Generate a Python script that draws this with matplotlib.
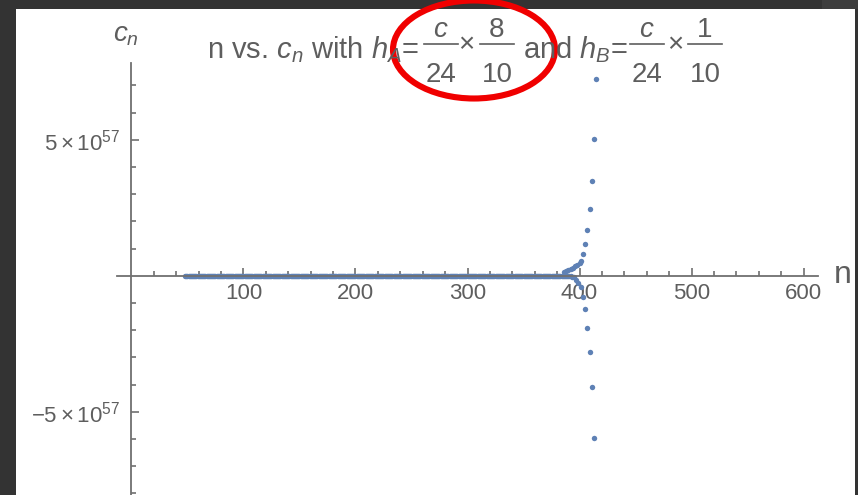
import numpy as np
import matplotlib
matplotlib.use("Agg")
import matplotlib.pyplot as plt
from matplotlib.patches import Rectangle, Ellipse

plt.rcParams["font.family"] = ["Liberation Sans", "DejaVu Sans"]
plt.rcParams["mathtext.fontset"] = "custom"
plt.rcParams["mathtext.rm"] = "Liberation Sans"
plt.rcParams["mathtext.it"] = "Liberation Sans:italic"

# c_n values, in units of 1e57
n_flat = np.arange(48, 393)
c_flat = np.zeros(len(n_flat))

n_up = [386, 388, 390, 392, 394, 396, 398, 400, 401, 403, 405, 407, 409, 411, 413, 415]
c_up = [0.15, 0.18, 0.21, 0.25, 0.29, 0.34, 0.40, 0.46, 0.56, 0.81, 1.17, 1.67, 2.44, 3.47, 5.02, 7.24]

n_lo = [393, 395, 397, 399, 401, 403, 405, 407, 409, 411, 413]
c_lo = [-0.03, -0.06, -0.15, -0.28, -0.40, -0.80, -1.23, -1.92, -2.79, -4.08, -5.96]

x_major = [100, 200, 300, 400, 500, 600]
x_minor = [v for v in range(20, 600, 20) if v % 100]
y_major = [-5, 5]
y_major_labels = [r"$-5\times10^{57}$", r"$5\times10^{57}$"]
y_minor = [-8, -7, -6, -4, -3, -2, -1, 1, 2, 3, 4, 6, 7]

SCALE = 1e57
W, H = 858, 495
pt_color = "#5E81B5"
txt = "#5e5e5e"
axis_col = "#707070"

fig = plt.figure(figsize=(W / 100, H / 100), dpi=100, facecolor="#333333")

# window frame behind everything
bg = fig.add_axes([0, 0, 1, 1], zorder=0)
bg.set_xlim(0, W)
bg.set_ylim(H, 0)
bg.axis("off")
bg.add_patch(Rectangle((822, 0), W - 822, 9, color="#3d3d3d", lw=0))
bg.add_patch(Rectangle((16, 9), 855 - 16, H - 9, color="white", lw=0))

# data axes: n from -13 to 613, c from -8.06e57 to 7.82e57
x_left, x_right = 116.9, 818.1
y_top = 63
ax = fig.add_axes([x_left / W, 0, (x_right - x_left) / W, (H - y_top) / H], zorder=1)
ax.patch.set_alpha(0)
ax.set_xlim(-13, 613)
ax.set_ylim(-8.06 * SCALE, 7.82 * SCALE)

for key in ("top", "right"):
    ax.spines[key].set_visible(False)
for key in ("left", "bottom"):
    ax.spines[key].set_position(("data", 0))
    ax.spines[key].set_color(axis_col)
    ax.spines[key].set_linewidth(1.3)

ax.set_xticks(x_major)
ax.set_xticks(x_minor, minor=True)
ax.set_yticks([v * SCALE for v in y_major], labels=y_major_labels)
ax.set_yticks([v * SCALE for v in y_minor], minor=True)
ax.tick_params(which="both", direction="in", color=axis_col, width=1.2,
               labelcolor=txt, labelsize=16)
ax.tick_params(which="major", length=6)
ax.tick_params(which="minor", length=3.5)
ax.tick_params(axis="x", pad=5)
ax.tick_params(axis="y", pad=8)

mk = dict(ls="none", marker="o", ms=3.9, mew=0, color=pt_color, clip_on=False)
ax.plot(n_flat, c_flat * SCALE, **mk)
ax.plot(n_up, np.array(c_up) * SCALE, **mk)
ax.plot(n_lo, np.array(c_lo) * SCALE, **mk)

# labels, title and annotation in pixel coordinates
ov = fig.add_axes([0, 0, 1, 1], zorder=2)
ov.set_xlim(0, W)
ov.set_ylim(H, 0)
ov.axis("off")

ov.text(113, 42, r"$c_n$", fontsize=20, color=txt, va="baseline")
ov.text(834, 275, "n", fontsize=23, color=txt, va="center")

base = 58
ov.text(207, base, r"n vs. $c_n$ with $h_A$=", fontsize=21, color=txt, va="baseline")
ov.text(523, base, r"and $h_B$=", fontsize=21, color=txt, va="baseline")

fracs = [(441, "$c$", "24"), (497, "8", "10"), (647, "$c$", "24"), (705, "1", "10")]
for cx, top, bot in fracs:
    ov.text(cx, 37, top, fontsize=20, color=txt, ha="center", va="baseline")
    ov.text(cx, 82, bot, fontsize=20, color=txt, ha="center", va="baseline")
    ov.plot([cx - 17, cx + 17], [44, 44], color=txt, lw=1.2)
for cx in (466, 675):
    ov.text(cx, 45, "×", fontsize=20, color=txt, ha="center", va="center")

ov.add_patch(Ellipse((474, 49.5), 162, 98, fill=False, ec="#f00000", lw=4.4))

fig.savefig("out.png", dpi=100, facecolor=fig.get_facecolor())
